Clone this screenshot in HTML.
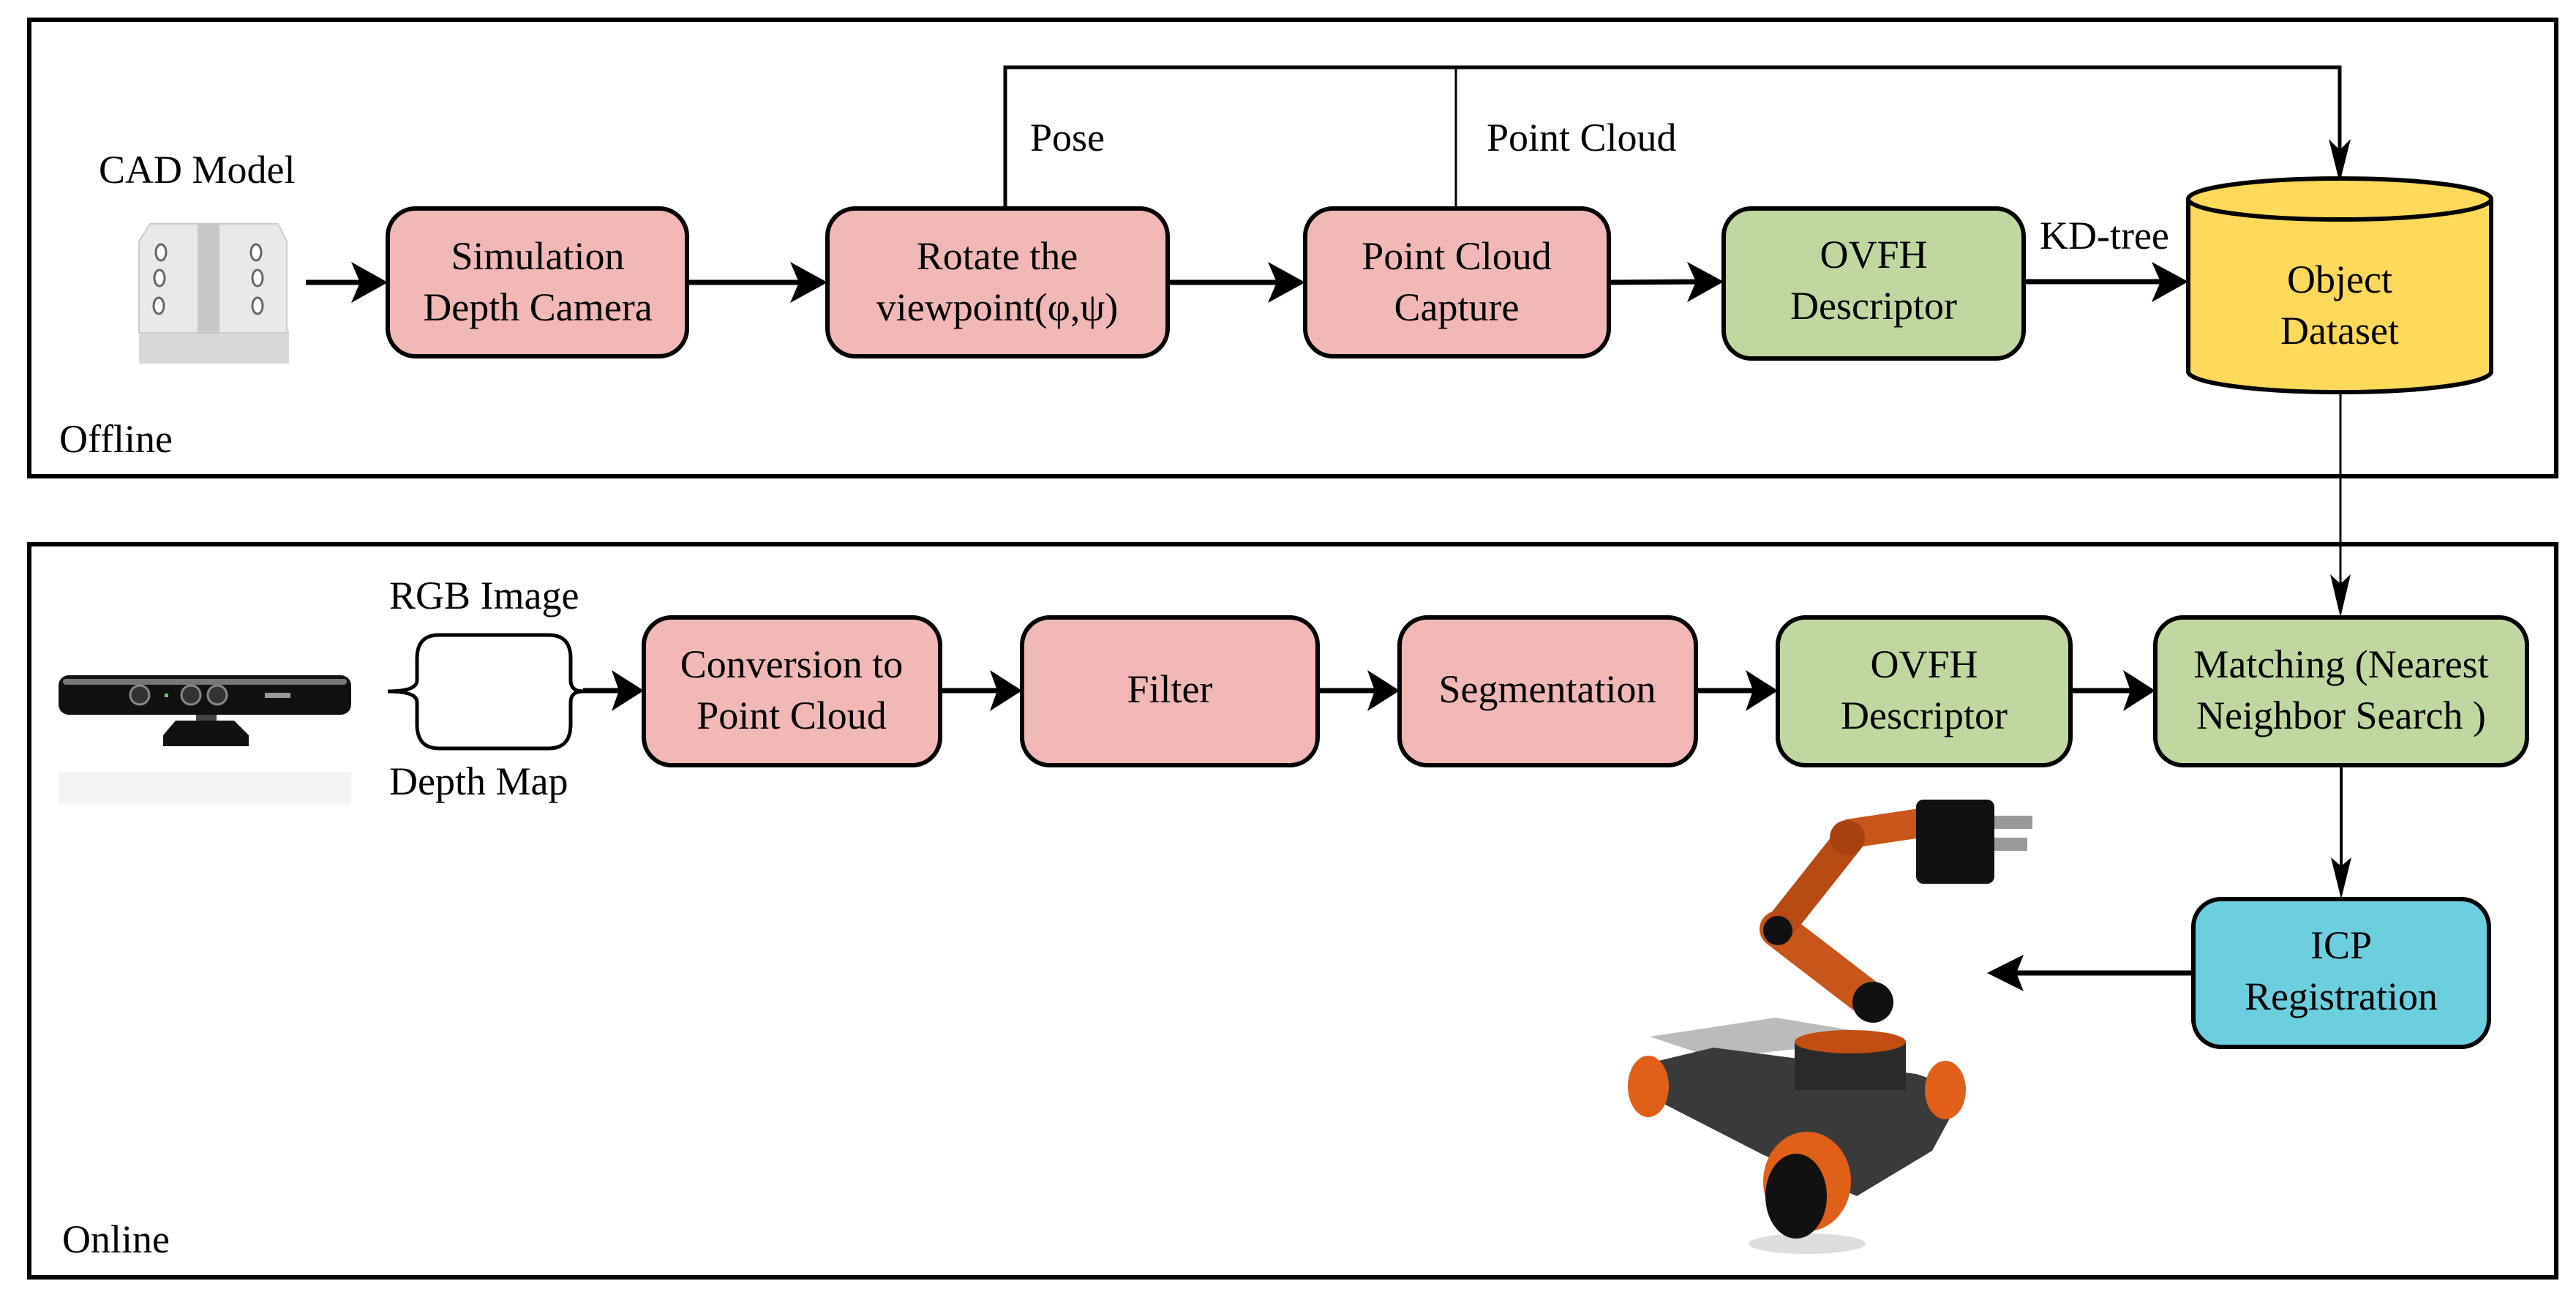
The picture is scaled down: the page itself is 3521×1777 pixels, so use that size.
<!DOCTYPE html>
<html><head><meta charset="utf-8"><style>
html,body{margin:0;padding:0;background:#fff;}
svg{display:block;}
text{font-family:"Liberation Serif","Times New Roman","DejaVu Serif",serif;font-size:54px;fill:#000;}
</style></head><body>
<svg width="3521" height="1777" viewBox="0 0 3521 1777" xmlns="http://www.w3.org/2000/svg">
<!-- frames -->
<rect x="40" y="27" width="3454" height="624" fill="none" stroke="#000" stroke-width="6"/>
<rect x="40" y="744" width="3454" height="1002" fill="none" stroke="#000" stroke-width="6"/>
<text x="81" y="618">Offline</text>
<text x="85" y="1712">Online</text>

<!-- CAD model -->
<g>
<rect x="190" y="452" width="205" height="45" fill="#d8d8d8"/>
<path d="M190 330 L205 306 L380 306 L392 330 L392 455 L190 455 Z" fill="#e9e9e9" stroke="#ccc" stroke-width="2"/>
<rect x="270" y="306" width="30" height="150" fill="#c8c8c8"/>
<g fill="#fff" stroke="#666" stroke-width="3">
<ellipse cx="220" cy="345" rx="7" ry="11"/><ellipse cx="218" cy="380" rx="7" ry="11"/><ellipse cx="217" cy="418" rx="7" ry="11"/>
<ellipse cx="350" cy="345" rx="7" ry="11"/><ellipse cx="352" cy="380" rx="7" ry="11"/><ellipse cx="352" cy="418" rx="7" ry="11"/>
</g>
</g>
<text x="135" y="250">CAD Model</text>

<!-- top feedback lines -->
<polyline points="1374,285 1374,92 3198,92 3198,215" fill="none" stroke="#000" stroke-width="5"/>
<line x1="1990" y1="92" x2="1990" y2="285" stroke="#000" stroke-width="3"/>
<polygon points="3183,190 3198,250 3213,190 3198,205" fill="#000"/>
<text x="1408" y="206">Pose</text>
<text x="2032" y="206">Point Cloud</text>

<!-- offline arrows -->
<g stroke="#000" stroke-width="7">
<line x1="418" y1="386" x2="500" y2="386"/>
<line x1="939" y1="386" x2="1100" y2="386"/>
<line x1="1596" y1="386" x2="1755" y2="386"/>
<line x1="2199" y1="386" x2="2330" y2="385"/>
<line x1="2766" y1="385" x2="2965" y2="385"/>
</g>
<g fill="#000">
<polygon points="480,358 530,386 480,414 492,386"/>
<polygon points="1080,358 1131,386 1080,414 1092,386"/>
<polygon points="1733,358 1784,386 1733,414 1745,386"/>
<polygon points="2306,358 2356,385 2306,413 2318,385"/>
<polygon points="2941,358 2991,385 2941,413 2953,385"/>
</g>
<text x="2788" y="340">KD-tree</text>

<!-- offline boxes -->
<g stroke="#000" stroke-width="6">
<rect x="530" y="285" width="409" height="202" rx="38" fill="#f2b8b5"/>
<rect x="1131" y="285" width="465" height="202" rx="38" fill="#f2b8b5"/>
<rect x="1784" y="285" width="415" height="202" rx="38" fill="#f2b8b5"/>
<rect x="2356" y="285" width="410" height="205" rx="38" fill="#c0d8a0"/>
</g>
<g text-anchor="middle">
<text x="735" y="368">Simulation</text><text x="735" y="438">Depth Camera</text>
<text x="1363" y="368">Rotate the</text><text x="1363" y="438">viewpoint(φ,ψ)</text>
<text x="1991" y="368">Point Cloud</text><text x="1991" y="438">Capture</text>
<text x="2561" y="366">OVFH</text><text x="2561" y="436">Descriptor</text>
</g>

<!-- cylinder -->
<path d="M2991,272 L2991,508 A207,28 0 0 0 3405,508 L3405,272" fill="#ffd95a" stroke="#000" stroke-width="6"/>
<ellipse cx="3198" cy="272" rx="207" ry="28" fill="#ffd95a" stroke="#000" stroke-width="6"/>
<text x="3198" y="400" text-anchor="middle">Object</text>
<text x="3198" y="470" text-anchor="middle">Dataset</text>

<!-- dataset to matching -->
<line x1="3199" y1="536" x2="3199" y2="800" stroke="#000" stroke-width="3"/>
<polygon points="3185,785 3199,844 3213,785 3199,798" fill="#000"/>

<!-- kinect -->
<g>
<rect x="80" y="923" width="400" height="54" rx="14" fill="#111"/>
<rect x="86" y="928" width="388" height="8" rx="4" fill="#777"/>
<circle cx="191" cy="950" r="13" fill="#333" stroke="#888" stroke-width="3"/>
<circle cx="261" cy="950" r="13" fill="#333" stroke="#888" stroke-width="3"/>
<circle cx="297" cy="950" r="13" fill="#333" stroke="#888" stroke-width="3"/>
<rect x="225" y="948" width="5" height="5" fill="#6c6"/>
<rect x="362" y="947" width="35" height="7" fill="#999"/>
<rect x="268" y="977" width="28" height="8" fill="#444"/>
<polygon points="240,985 320,985 340,1005 340,1020 223,1020 223,1005" fill="#111"/>
<rect x="80" y="1055" width="400" height="45" fill="#f4f4f4"/>
</g>

<!-- brace -->
<path d="M600,868 Q570,868 570,900 L570,930 Q570,945 530,945 Q570,945 570,960 L570,990 Q570,1023 600,1023 L750,1023 Q780,1023 780,990 L780,960 Q780,945 797,945 Q780,945 780,930 L780,900 Q780,868 750,868 Z" fill="none" stroke="#000" stroke-width="5"/>
<text x="532" y="832">RGB Image</text>
<text x="532" y="1086">Depth Map</text>

<!-- online arrows -->
<g stroke="#000" stroke-width="7">
<line x1="797" y1="944" x2="850" y2="944"/>
<line x1="1285" y1="944" x2="1370" y2="944"/>
<line x1="1801" y1="944" x2="1885" y2="944"/>
<line x1="2318" y1="944" x2="2400" y2="944"/>
<line x1="2830" y1="944" x2="2918" y2="944"/>
</g>
<g fill="#000">
<polygon points="836,916 880,944 836,972 846,944"/>
<polygon points="1353,916 1397,944 1353,972 1363,944"/>
<polygon points="1869,916 1913,944 1869,972 1879,944"/>
<polygon points="2386,916 2430,944 2386,972 2396,944"/>
<polygon points="2902,916 2946,944 2902,972 2912,944"/>
</g>

<!-- online boxes -->
<g stroke="#000" stroke-width="6">
<rect x="880" y="844" width="405" height="202" rx="38" fill="#f2b8b5"/>
<rect x="1397" y="844" width="404" height="202" rx="38" fill="#f2b8b5"/>
<rect x="1913" y="844" width="405" height="202" rx="38" fill="#f2b8b5"/>
<rect x="2430" y="844" width="400" height="202" rx="38" fill="#c0d8a0"/>
<rect x="2946" y="844" width="508" height="202" rx="38" fill="#c0d8a0"/>
<rect x="2998" y="1229" width="404" height="202" rx="38" fill="#6ccfe0"/>
</g>
<g text-anchor="middle">
<text x="1082" y="926">Conversion to</text><text x="1082" y="996">Point Cloud</text>
<text x="1599" y="960">Filter</text>
<text x="2115" y="960">Segmentation</text>
<text x="2630" y="926">OVFH</text><text x="2630" y="996">Descriptor</text>
<text x="3200" y="926">Matching (Nearest</text><text x="3200" y="996">Neighbor Search )</text>
<text x="3200" y="1310">ICP</text><text x="3200" y="1380">Registration</text>
</g>

<!-- matching to ICP -->
<line x1="3200" y1="1046" x2="3200" y2="1190" stroke="#000" stroke-width="4"/>
<polygon points="3186,1172 3200,1229 3214,1172 3200,1184" fill="#000"/>
<!-- ICP to robot -->
<line x1="2998" y1="1330" x2="2740" y2="1330" stroke="#000" stroke-width="7"/>
<polygon points="2766,1305 2716,1330 2766,1355 2756,1330" fill="#000"/>

<!-- robot -->
<g>
<ellipse cx="2470" cy="1700" rx="80" ry="14" fill="#ddd"/>
<polygon points="2255,1417 2427,1391 2596,1419 2342,1446" fill="#bbb"/>
<polygon points="2230,1459 2342,1432 2619,1468 2686,1490 2641,1573 2538,1635 2409,1578 2253,1498" fill="#3a3a3a"/>
<ellipse cx="2253" cy="1485" rx="28" ry="42" fill="#e0601a"/>
<ellipse cx="2659" cy="1490" rx="28" ry="40" fill="#e0601a"/>
<ellipse cx="2470" cy="1615" rx="60" ry="68" fill="#e0601a"/>
<ellipse cx="2455" cy="1635" rx="42" ry="58" fill="#111"/>
<rect x="2453" y="1424" width="152" height="66" fill="#2a2a2a"/>
<ellipse cx="2529" cy="1424" rx="76" ry="16" fill="#c24d12"/>
<line x1="2430" y1="1270" x2="2560" y2="1370" stroke="#c8561a" stroke-width="50" stroke-linecap="round"/>
<line x1="2430" y1="1270" x2="2525" y2="1150" stroke="#b84a14" stroke-width="42" stroke-linecap="round"/>
<line x1="2525" y1="1140" x2="2625" y2="1125" stroke="#c8561a" stroke-width="40"/>
<circle cx="2560" cy="1370" r="28" fill="#111"/>
<circle cx="2430" cy="1272" r="20" fill="#111"/>
<circle cx="2525" cy="1145" r="24" fill="#a8400f"/>
<rect x="2619" y="1093" width="107" height="115" rx="10" fill="#111"/>
<rect x="2726" y="1115" width="52" height="18" fill="#999"/>
<rect x="2726" y="1145" width="45" height="18" fill="#999"/>
</g>
</svg>
</body></html>
